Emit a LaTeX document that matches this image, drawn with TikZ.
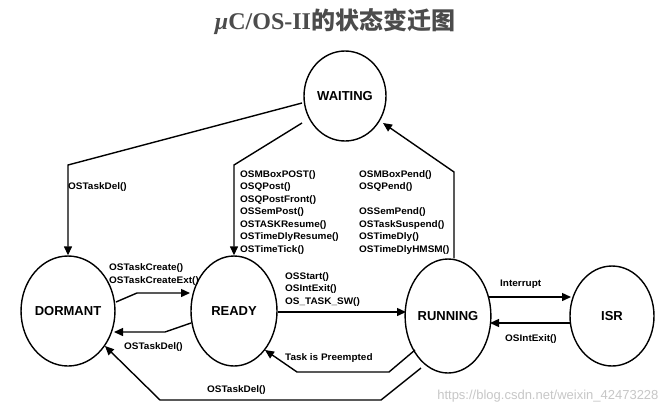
\documentclass[tikz,border=0pt]{standalone}
\usepackage{fontspec}
\setmainfont{Liberation Sans}
\newfontfamily\cjk{Noto Sans CJK SC}
\newfontfamily\serifx{Liberation Serif}
\usetikzlibrary{shapes.geometric,arrows.meta}
\begin{document}
\begin{tikzpicture}[x=1pt,y=-1pt,
  st/.style={draw,line width=1.4pt,ellipse,inner sep=0pt,font=\bfseries\fontsize{13}{13}\selectfont},
  ar/.style={line width=1.4pt,-{Triangle[length=9pt,width=8pt]}},
  lb/.style={font=\bfseries\fontsize{9.5}{10}\selectfont,inner sep=0pt,anchor=west,xscale=1.05},
  ls/.style={font=\bfseries\fontsize{9.5}{12.5}\selectfont,inner sep=0pt,anchor=north west,align=left,xscale=1.05}]
\useasboundingbox (0,0) rectangle (671,416);
\fill[white] (0,0) rectangle (671,416);
\node[text=black!70,font=\bfseries\fontsize{24}{24}\selectfont] (title) at (335,22) {{\serifx\itshape μ}{\serifx C/OS-II}{\cjk 的状态变迁图}};
\node[st,minimum width=82pt,minimum height=90pt] (W) at (345,96) {WAITING};
\node[st,minimum width=86pt,minimum height=110pt] (D) at (68,311) {DORMANT};
\node[st,minimum width=86pt,minimum height=110pt] (R) at (234,311) {READY};
\node[st,minimum width=84pt,minimum height=114pt] (U) at (448,316) {RUNNING};
\node[st,minimum width=84pt,minimum height=100pt] (I) at (612,316) {ISR};
\coordinate (w1) at (302,103); \coordinate (w2) at (302,123);
\draw[ar] (w1) -- (68,165) -- (D.north);
\draw[ar] (w2) -- (234,165) -- (R.north);
\draw[ar] (U.north -| 454,0) -- (454,172) -- (383,123);
\node[lb] (l1) at (68,187) {OSTaskDel()};
\node[ls] (l2) at (240,170) {OSMBoxPOST()\\OSQPost()\\OSQPostFront()\\OSSemPost()\\OSTASKResume()\\OSTimeDlyResume()\\OSTimeTick()};
\node[ls] (l3) at (359,170) {OSMBoxPend()\\OSQPend()\\[12.5pt]OSSemPend()\\OSTaskSuspend()\\OSTimeDly()\\OSTimeDlyHMSM()};
\draw[ar] (116,302) -- (137,293) -- (190,293);
\node[lb] (l4) at (109,268) {OSTaskCreate()};
\node[lb] (l5) at (109,281) {OSTaskCreateExt()};
\draw[ar] (191,323) -- (165,332) -- (114,332);
\node[lb] (l6) at (124,347) {OSTaskDel()};
\draw[ar] (R.east |- 0,312) -- (406,312);
\node[ls] (l7) at (285,272) {OSStart()\\OSIntExit()\\OS\_TASK\_SW()};
\draw[ar] (489,297) -- (571,297);
\node[lb] (l8) at (500,284) {Interrupt};
\draw[ar] (570,323) -- (490,323);
\node[lb] (l9) at (505,339) {OSIntExit()};
\draw[ar] (415,350) -- (389,372) -- (297,372) -- (265,350);
\node[lb] (l10) at (285,358) {Task is Preempted};
\draw[ar] (421,368) -- (381,400) -- (160,400) -- (105,346);
\node[lb] (l11) at (207,390) {OSTaskDel()};
\node[anchor=east,text=black!22,font=\fontsize{13}{13}\selectfont] (wm) at (662,396) {https://blog.csdn.net/weixin\_42473228};
\end{tikzpicture}
\end{document}
